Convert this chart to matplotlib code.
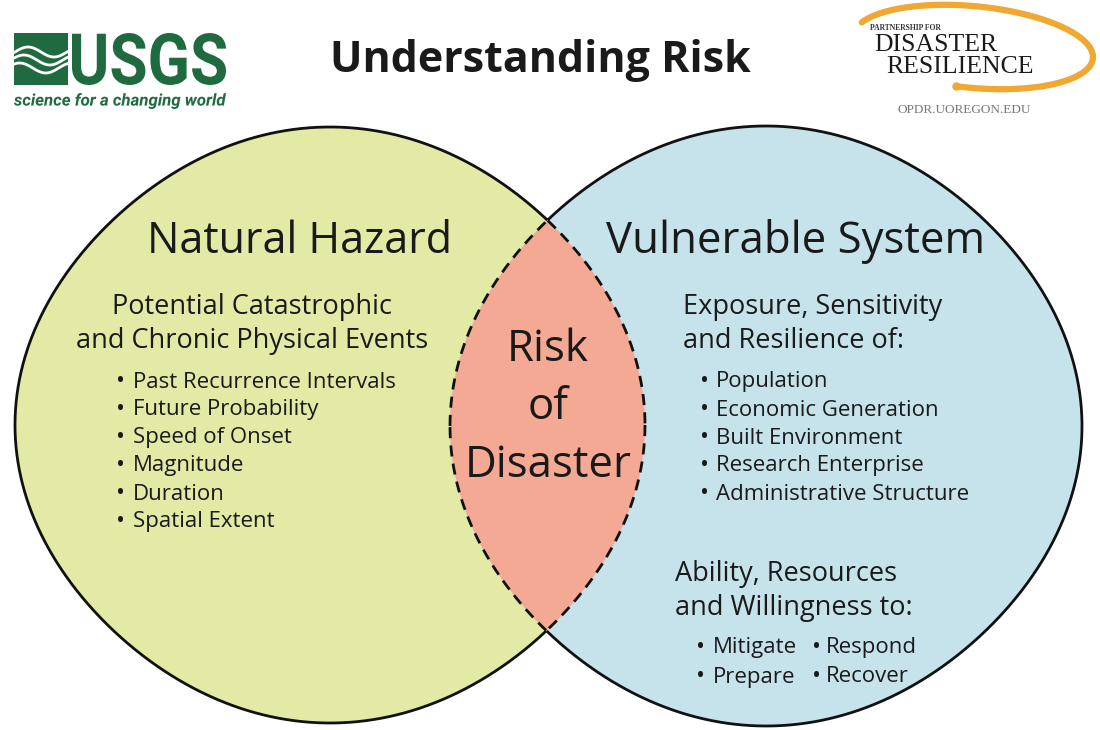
import numpy as np
import matplotlib
matplotlib.use('Agg')
from matplotlib import pyplot as plt
from matplotlib.patches import Rectangle, PathPatch, Polygon
from matplotlib.textpath import TextPath
from matplotlib.font_manager import FontProperties
from matplotlib.transforms import Affine2D

plt.rcParams['font.family'] = ['Open Sans', 'DejaVu Sans']

# --- content ---
title = 'Understanding Risk'
left_head = 'Natural Hazard'
left_sub = ['Potential Catastrophic', 'and Chronic Physical Events']
left_items = ['Past Recurrence Intervals', 'Future Probability', 'Speed of Onset',
              'Magnitude', 'Duration', 'Spatial Extent']
right_head = 'Vulnerable System'
right_sub = ['Exposure, Sensitivity', 'and Resilience of:']
right_items = ['Population', 'Economic Generation', 'Built Environment',
               'Research Enterprise', 'Administrative Structure']
right_sub2 = ['Ability, Resources', 'and Willingness to:']
right_actions = [['Mitigate', 'Respond'], ['Prepare', 'Recover']]
middle = ['Risk', 'of', 'Disaster']

# circles (pixel space): centre x, centre y, half width, half height
left_c = (330, 425, 315, 298)
right_c = (766, 426, 316, 300)
squeeze = 0.026   # the drawn circles are a little narrower on the diagonals

c_left = '#e3eaa5'
c_right = '#c6e3ec'
c_mid = '#f4a995'
ink = '#1a1a1a'

fig = plt.figure(figsize=(11, 7.3), dpi=100)
ax = fig.add_axes([0, 0, 1, 1])
ax.set_xlim(0, 1100)
ax.set_ylim(730, 0)
ax.axis('off')

def radial(t):
    return 1 - squeeze * np.sin(2 * t) ** 2

def shape_pts(c, t):
    f = radial(t)
    return c[0] + c[2] * np.cos(t) * f, c[1] + c[3] * np.sin(t) * f

def inside(x, y, c):
    u = (x - c[0]) / c[2]
    v = (y - c[1]) / c[3]
    return np.hypot(u, v) < radial(np.arctan2(v, u))

tt = np.linspace(0, 2 * np.pi, 3000)
lx, ly = shape_pts(left_c, tt)
rx, ry = shape_pts(right_c, tt)
ax.fill(lx, ly, color=c_left, zorder=1, lw=0)
ax.fill(rx, ry, color=c_right, zorder=1, lw=0)
clip = Polygon(np.column_stack([rx, ry]), closed=True, facecolor='none', edgecolor='none')
ax.add_patch(clip)
lens = Polygon(np.column_stack([lx, ly]), closed=True, facecolor=c_mid, edgecolor='none', zorder=2)
ax.add_patch(lens)
lens.set_clip_path(clip)

def outline(c, other, t0):
    # start in the middle of the overlap so the solid arc is one piece
    t = np.linspace(t0, t0 + 2 * np.pi, 3000)
    x, y = shape_pts(c, t)
    ins = inside(x, y, other)
    ax.plot(np.where(ins, np.nan, x), np.where(ins, np.nan, y), color='#111111',
            lw=2.0, zorder=3, solid_capstyle='butt')
    ax.plot(np.where(ins, x, np.nan), np.where(ins, y, np.nan), color='#111111',
            lw=2.0, zorder=3, linestyle=(0, (4, 2.6)))

outline(left_c, right_c, 0)
outline(right_c, left_c, np.pi)

# --- texts ---
ax.text(540, 60, title, ha='center', va='center', fontsize=31, fontweight='bold', color=ink)

ax.text(300, 242, left_head, ha='center', va='center', fontsize=31, color=ink)
ax.text(795, 242, right_head, ha='center', va='center', fontsize=31.5, color=ink)

sub_fs = 19.5
item_fs = 16
dot_fs = 17
for i, s in enumerate(left_sub):
    ax.text(252, 307 + 34 * i, s, ha='center', va='center', fontsize=sub_fs, color=ink)
for i, s in enumerate(left_items):
    ax.text(133, 382 + 28 * i, s, ha='left', va='center', fontsize=item_fs, color=ink)
    ax.text(121, 382 + 28 * i, '\u2022', ha='center', va='center', fontsize=dot_fs, color=ink)

for i, s in enumerate(right_sub):
    ax.text(683, 307 + 34 * i, s, ha='left', va='center', fontsize=sub_fs, color=ink)
for i, s in enumerate(right_items):
    ax.text(716, 382 + 28 * i, s, ha='left', va='center', fontsize=item_fs, color=ink)
    ax.text(704, 382 + 28 * i, '\u2022', ha='center', va='center', fontsize=dot_fs, color=ink)
for i, s in enumerate(right_sub2):
    ax.text(675, 574 + 34 * i, s, ha='left', va='center', fontsize=sub_fs, color=ink)
for i, row in enumerate(right_actions):
    y = 648 + 29 * i
    ax.text(701, y, '\u2022', ha='center', va='center', fontsize=dot_fs, color=ink)
    ax.text(713, y, row[0], ha='left', va='center', fontsize=item_fs, color=ink)
    ax.text(816, y, '\u2022', ha='center', va='center', fontsize=dot_fs, color=ink)
    ax.text(826, y, row[1], ha='left', va='center', fontsize=item_fs, color=ink)

for i, s in enumerate(middle):
    ax.text(548, 350 + 58 * i, s, ha='center', va='center', fontsize=31.5, color=ink, zorder=4)

# --- logos ---
def fit_text(s, x0, y0, x1, y1, prop, color):
    p = TextPath((0, 0), s, size=50, prop=prop)
    b = p.get_extents()
    tr = (Affine2D().translate(-b.x0, -b.y0)
          .scale((x1 - x0) / b.width, -(y1 - y0) / b.height)
          .translate(x0, y1))
    ax.add_patch(PathPatch(tr.transform_path(p), facecolor=color, edgecolor='none', zorder=5))

green = '#1f6b3f'
ax.add_patch(Rectangle((14, 33), 54, 52, facecolor=green, edgecolor='none'))
wx = np.linspace(15, 67, 100)
for k, off in enumerate([52, 60, 68]):
    wy = off - 5 * np.sin((wx - 15) / 52 * 2 * np.pi + 0.5 * k)
    ax.plot(wx, wy, color='white', lw=2.0)
fit_text('USGS', 72, 33, 226, 85, FontProperties(family='Roboto', weight='bold'), green)
fit_text('science for a changing world', 14, 93, 226, 109,
         FontProperties(family='Roboto', weight='bold', style='italic'), green)

orange = '#f0a830'
t = np.linspace(np.radians(158), np.radians(-98), 300)
ox = 973 + 120 * np.cos(t)
oy = 47 - 41 * np.sin(t) + 10 * np.cos(t)
ax.plot(ox, oy, color=orange, lw=4.5, solid_capstyle='round')
ax.plot([ox[-1]], [oy[-1]], 'o', color=orange, ms=5)
serif = ['Liberation Serif', 'DejaVu Serif']
ax.text(905, 28, 'PARTNERSHIP FOR', ha='center', va='center', fontsize=5.5,
        fontweight='bold', color='#333333', family=serif)
ax.text(936, 45, 'DISASTER', ha='center', va='center', fontsize=18.5, color=ink, family=serif)
ax.text(960, 67, 'RESILIENCE', ha='center', va='center', fontsize=18.5, color=ink, family=serif)
ax.text(964, 110, 'OPDR.UOREGON.EDU', ha='center', va='center', fontsize=9.5,
        color='#777777', family=serif)

fig.savefig('out.png', dpi=100)
